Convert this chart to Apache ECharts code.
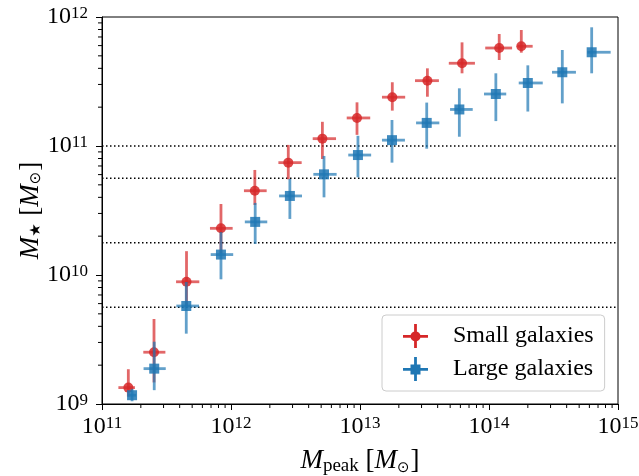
<!DOCTYPE html>
<html>
<head>
<meta charset="utf-8">
<script src="https://cdn.jsdelivr.net/npm/echarts@6/dist/echarts.min.js"></script>
<style>
  html, body { margin: 0; padding: 0; background: #fff; }
  #chart { width: 639px; height: 476px; }
</style>
</head>
<body>
<div id="chart"></div>
<script>
// small galaxies (red)
const smallX = [1.60e11, 2.53e11, 4.52e11, 8.36e11, 1.53e12, 2.78e12, 5.11e12, 9.48e12, 1.78e13, 3.33e13, 6.18e13, 1.20e14, 1.78e14]
const smallXLo = [1.34e11, 2.09e11, 3.75e11, 6.87e11, 1.26e12, 2.33e12, 4.30e12, 7.89e12, 1.48e13, 2.67e13, 4.88e13, 9.35e13, 1.66e14]
const smallXHi = [1.80e11, 3.10e11, 5.68e11, 1.03e12, 1.89e12, 3.53e12, 6.52e12, 1.20e13, 2.24e13, 4.09e13, 7.78e13, 1.51e14, 2.18e14]
const smallY = [1.34e9, 2.52e9, 8.86e9, 2.30e10, 4.50e10, 7.43e10, 1.14e11, 1.65e11, 2.39e11, 3.21e11, 4.38e11, 5.75e11, 5.93e11]
const smallYLo = [1.14e9, 1.47e9, 5.75e9, 1.48e10, 3.49e10, 5.52e10, 7.93e10, 1.22e11, 1.88e11, 2.41e11, 3.66e11, 4.64e11, 5.29e11]
const smallYHi = [1.86e9, 4.56e9, 1.53e10, 3.55e10, 6.52e10, 1.02e11, 1.54e11, 2.18e11, 3.12e11, 4.00e11, 6.36e11, 7.38e11, 7.93e11]

// large galaxies (blue)
const largeX = [1.71e11, 2.54e11, 4.50e11, 8.36e11, 1.54e12, 2.86e12, 5.26e12, 9.64e12, 1.77e13, 3.29e13, 5.89e13, 1.13e14, 2.00e14, 3.70e14, 6.25e14]
const largeXLo = [1.59e11, 2.10e11, 3.77e11, 6.96e11, 1.28e12, 2.36e12, 4.35e12, 8.11e12, 1.48e13, 2.72e13, 4.99e13, 9.15e13, 1.70e14, 3.08e14, 5.78e14]
const largeXHi = [1.84e11, 3.12e11, 5.65e11, 1.04e12, 1.91e12, 3.55e12, 6.59e12, 1.22e13, 2.23e13, 4.12e13, 7.48e13, 1.36e14, 2.61e14, 4.72e14, 8.77e14]
const largeY = [1.17e9, 1.88e9, 5.75e9, 1.44e10, 2.58e10, 4.10e10, 6.03e10, 8.51e10, 1.11e11, 1.51e11, 1.92e11, 2.53e11, 3.08e11, 3.73e11, 5.33e11]
const largeYLo = [1.05e9, 1.28e9, 3.51e9, 9.26e9, 1.74e10, 2.72e10, 4.00e10, 5.72e10, 7.43e10, 9.53e10, 1.18e11, 1.56e11, 1.85e11, 2.14e11, 3.66e11]
const largeYHi = [1.31e9, 3.04e9, 8.83e9, 2.15e10, 3.62e10, 5.55e10, 8.37e10, 1.20e11, 1.59e11, 2.17e11, 2.80e11, 3.66e11, 4.22e11, 5.55e11, 8.32e11]

// horizontal dotted reference levels
const dottedLevels = [1e11, 5.62e10, 1.78e10, 5.62e9]

// axis ranges and minor tick positions
const xRange = [1e11, 1e15]
const yRange = [1e9, 1e12]
const minorMult = [2, 3, 4, 5, 6, 7, 8, 9]
const xDecades = [1e11, 1e12, 1e13, 1e14]
const yDecades = [1e9, 1e10, 1e11]

const RED = '#d62728'
const BLUE = '#1f77b4'
const FONT = '"Liberation Serif", "DejaVu Serif", "DejaVu Sans", serif'

function zipErr(x, xlo, xhi, y, ylo, yhi) {
  return x.map((v, i) => [v, y[i], xlo[i], xhi[i], ylo[i], yhi[i]])
}

function errRender(color, shape) {
  return function (params, api) {
    const c = api.coord([api.value(0), api.value(1)])
    const l = api.coord([api.value(2), api.value(1)])
    const r = api.coord([api.value(3), api.value(1)])
    const b = api.coord([api.value(0), api.value(4)])
    const t = api.coord([api.value(0), api.value(5)])
    const barStyle = { stroke: color, lineWidth: 2.8, opacity: 0.7 }
    const marker = shape === 'circle'
      ? { type: 'circle', shape: { cx: c[0], cy: c[1], r: 5 }, style: { fill: color, opacity: 0.85 } }
      : { type: 'rect', shape: { x: c[0] - 5, y: c[1] - 5, width: 10, height: 10 }, style: { fill: color, opacity: 0.85 } }
    return {
      type: 'group',
      children: [
        { type: 'line', shape: { x1: l[0], y1: l[1], x2: r[0], y2: r[1] }, style: barStyle },
        { type: 'line', shape: { x1: b[0], y1: b[1], x2: t[0], y2: t[1] }, style: barStyle },
        marker
      ]
    }
  }
}

const minorTicks = []
xDecades.forEach(d => minorMult.forEach(m => minorTicks.push([d * m, yRange[0], 0])))
yDecades.forEach(d => minorMult.forEach(m => minorTicks.push([xRange[0], d * m, 1])))

const labelRich = {
  b: { fontFamily: FONT, fontSize: 24, color: '#000' },
  s: { fontFamily: FONT, fontSize: 17, color: '#000', verticalAlign: 'top', padding: [0, 0, 7, 0] }
}
const powLabel = v => '{b|10}{s|' + Math.round(Math.log10(v)) + '}'

const nameRich = {
  i: { fontFamily: FONT, fontSize: 27, fontStyle: 'italic', color: '#000' },
  r: { fontFamily: FONT, fontSize: 27, color: '#000' },
  sub: { fontFamily: FONT, fontSize: 19, color: '#000', verticalAlign: 'bottom', padding: [11, 0, 0, 0] },
  sym: { fontFamily: '"DejaVu Sans"', fontSize: 15, color: '#000', verticalAlign: 'bottom', padding: [11, 1, 0, 0] }
}

const chart = echarts.init(document.getElementById('chart'))

chart.setOption({
  animation: false,
  backgroundColor: '#fff',
  grid: {
    left: 102, right: 21, top: 17, bottom: 72,
    outerBoundsMode: 'none',
    containLabel: false,
    show: true, borderColor: '#000', borderWidth: 1, backgroundColor: 'transparent'
  },
  legend: {
    orient: 'vertical',
    left: 382, top: 315,
    padding: [9, 11, 10, 21],
    itemGap: 9,
    itemWidth: 25, itemHeight: 24,
    backgroundColor: 'rgba(255,255,255,0.8)',
    borderColor: '#cccccc', borderWidth: 1, borderRadius: 4,
    textStyle: { fontFamily: FONT, fontSize: 24, color: '#000', padding: [0, 0, 0, 20] },
    data: [
      { name: 'Small galaxies', icon: 'path://M0,11h25v2.8h-25z M11.1,0h2.8v24h-2.8z M12.5,7.4A5,5 0 1,1 12.5,17.4A5,5 0 1,1 12.5,7.4z' },
      { name: 'Large galaxies', icon: 'path://M0,11h25v2.8h-25z M11.1,0h2.8v24h-2.8z M7.5,7.4h10v10h-10z' }
    ]
  },
  xAxis: {
    type: 'log', logBase: 10,
    min: xRange[0], max: xRange[1],
    name: '{i|M}{sub|peak}{r| [}{i|M}{sym|⊙}{r|]}',
    nameLocation: 'middle', nameGap: 42,
    nameTextStyle: { rich: nameRich },
    axisLine: { show: true, lineStyle: { color: '#000', width: 1 } },
    axisTick: { show: true, inside: false, length: 6, lineStyle: { color: '#000', width: 1 } },
    axisLabel: { margin: 11, formatter: powLabel, rich: labelRich },
    splitLine: { show: false }
  },
  yAxis: {
    type: 'log', logBase: 10,
    min: yRange[0], max: yRange[1],
    name: '{i|M}{sym|★}{r| [}{i|M}{sym|⊙}{r|]}',
    nameLocation: 'middle', nameGap: 58, nameRotate: 90,
    nameMoveOverlap: false,
    nameTextStyle: { rich: nameRich },
    axisLine: { show: true, lineStyle: { color: '#000', width: 1 } },
    axisTick: { show: true, inside: false, length: 6, lineStyle: { color: '#000', width: 1 } },
    axisLabel: { margin: 14, formatter: powLabel, rich: labelRich },
    splitLine: { show: false }
  },
  series: [
    {
      type: 'custom',
      name: 'levels',
      silent: true,
      z: 1,
      encode: { x: [0, 2], y: 1 },
      data: dottedLevels.map(v => [xRange[0], v, xRange[1]]),
      renderItem: (params, api) => {
        const p1 = api.coord([api.value(0), api.value(1)])
        const p2 = api.coord([api.value(2), api.value(1)])
        return {
          type: 'line',
          shape: { x1: p1[0], y1: p1[1], x2: p2[0], y2: p2[1] },
          style: { stroke: '#000', lineWidth: 1.5, lineDash: [1.5, 2.5] }
        }
      }
    },
    {
      type: 'custom',
      name: 'minor',
      silent: true,
      clip: false,
      z: 1,
      encode: { x: 0, y: 1 },
      data: minorTicks,
      renderItem: (params, api) => {
        const p = api.coord([api.value(0), api.value(1)])
        const isY = api.value(2) === 1
        return {
          type: 'line',
          shape: isY
            ? { x1: p[0], y1: p[1], x2: p[0] - 4, y2: p[1] }
            : { x1: p[0], y1: p[1], x2: p[0], y2: p[1] + 4 },
          style: { stroke: '#000', lineWidth: 1 }
        }
      }
    },
    {
      type: 'custom',
      name: 'Small galaxies',
      z: 3,
      itemStyle: { color: RED },
      encode: { x: 0, y: 1 },
      data: zipErr(smallX, smallXLo, smallXHi, smallY, smallYLo, smallYHi),
      renderItem: errRender(RED, 'circle')
    },
    {
      type: 'custom',
      name: 'Large galaxies',
      z: 4,
      itemStyle: { color: BLUE },
      encode: { x: 0, y: 1 },
      data: zipErr(largeX, largeXLo, largeXHi, largeY, largeYLo, largeYHi),
      renderItem: errRender(BLUE, 'square')
    }
  ]
})
</script>
</body>
</html>
